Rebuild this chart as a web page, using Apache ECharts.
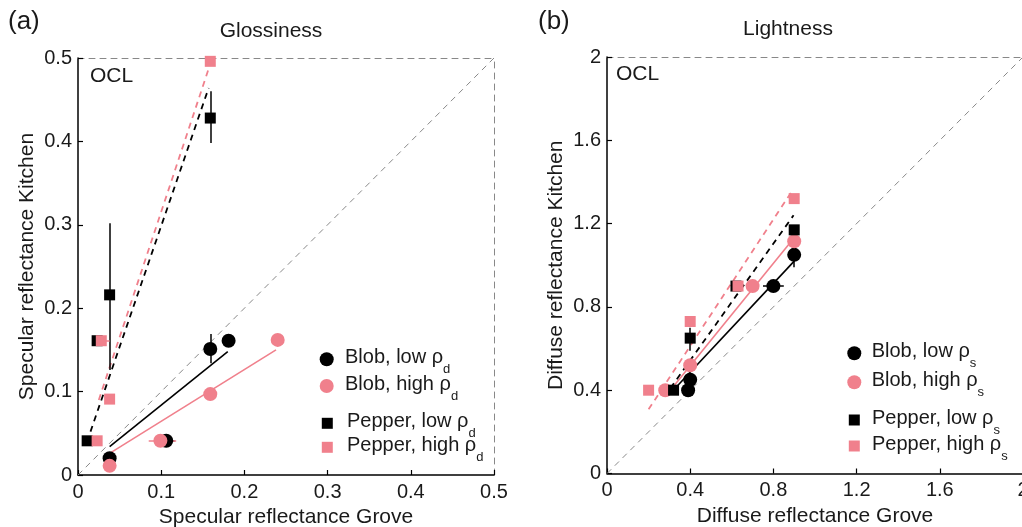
<!DOCTYPE html>
<html><head><meta charset="utf-8">
<script src="https://cdn.jsdelivr.net/npm/echarts@6/dist/echarts.min.js"></script>
<style>html,body{margin:0;padding:0;background:#fff}#c{width:1022px;height:527px}</style>
</head><body><div id="c"></div>
<script>
// ---------- Panel (a): Glossiness ----------
const aBlobLow    = [[0.038,0.020],[0.106,0.041],[0.159,0.151],[0.181,0.161]];
const aBlobHigh   = [[0.038,0.011],[0.099,0.041],[0.159,0.097],[0.240,0.162]];
const aPepperLow  = [[0.011,0.041],[0.023,0.161],[0.038,0.216],[0.159,0.428]];
const aPepperHigh = [[0.023,0.041],[0.028,0.161],[0.038,0.091],[0.159,0.496]];
const aFitBlobLow    = [[0.038,0.034],[0.180,0.148]];
const aFitBlobHigh   = [[0.038,0.026],[0.238,0.150]];
const aFitPepperLow  = [[0.015,0.052],[0.157,0.464]];
const aFitPepperHigh = [[0.025,0.090],[0.158,0.490]];
const aErrLow  = [[0.159,0.398,0.159,0.460],[0.038,0.126,0.038,0.302],[0.159,0.134,0.159,0.169],[0.098,0.041,0.116,0.041],[0.019,0.161,0.030,0.161]];
const aErrHigh = [[0.085,0.041,0.118,0.041],[0.020,0.161,0.038,0.161],[0.038,0.086,0.038,0.097]];

// ---------- Panel (b): Lightness ----------
const bBlobLow    = [[0.39,0.40],[0.40,0.45],[0.80,0.90],[0.90,1.05]];
const bBlobHigh   = [[0.28,0.40],[0.40,0.52],[0.70,0.90],[0.90,1.115]];
const bPepperLow  = [[0.32,0.40],[0.40,0.65],[0.62,0.90],[0.90,1.17]];
const bPepperHigh = [[0.20,0.40],[0.40,0.73],[0.63,0.90],[0.90,1.32]];
const bFitBlobLow    = [[0.305,0.385],[0.90,1.02]];
const bFitBlobHigh   = [[0.28,0.37],[0.89,1.12]];
const bFitPepperLow  = [[0.305,0.41],[0.897,1.24]];
const bFitPepperHigh = [[0.20,0.308],[0.892,1.36]];
const bErrLow  = [[0.40,0.59,0.40,0.70],[0.75,0.90,0.85,0.90],[0.90,0.99,0.90,1.09],[0.60,0.90,0.65,0.90]];
const bErrHigh = [];

const aNames = ['Blob, low ρ_d','Blob, high ρ_d','Pepper, low ρ_d','Pepper, high ρ_d'];
const bNames = ['Blob, low ρ_s','Blob, high ρ_s','Pepper, low ρ_s','Pepper, high ρ_s'];

const FONT = '"Liberation Sans", Arial, Helvetica, sans-serif';
const BLACK = '#000000';
const PINK = '#F0808C';
const TXT = '#1a1a1a';

function fmtTick(v){ return v === 0 ? '0' : (Math.abs(v - 2) < 1e-9 ? '2' : v.toFixed(1)); }

function axesFor(g, max, interval, xname, yname){
  const common = {gridIndex:g, type:'value', min:0, max:max, interval:interval, splitLine:{show:false}};
  const xMain = Object.assign({}, common, {
    position:'bottom', name:xname, nameLocation:'middle', nameGap:25,
    nameTextStyle:{fontFamily:FONT, fontSize:21, color:TXT},
    axisLine:{show:true, onZero:false, lineStyle:{color:'#000', width:1.5}},
    axisTick:{show:true, inside:true, length:5, lineStyle:{color:'#000', width:1.2}},
    axisLabel:{fontFamily:FONT, fontSize:20, color:TXT, margin:7, formatter:fmtTick, showMaxLabel:true, showMinLabel:true, hideOverlap:false}
  });
  const xTop = Object.assign({}, common, {
    position:'top', axisLine:{show:true, onZero:false, lineStyle:{color:'#888', width:1, type:[6,5]}},
    axisTick:{show:false}, axisLabel:{show:false}
  });
  const yMain = Object.assign({}, common, {
    position:'left', name:yname, nameLocation:'middle', nameGap:40,
    nameTextStyle:{fontFamily:FONT, fontSize:21, color:TXT},
    axisLine:{show:true, onZero:false, lineStyle:{color:'#000', width:1.5}},
    axisTick:{show:true, inside:true, length:5, lineStyle:{color:'#000', width:1.2}},
    axisLabel:{fontFamily:FONT, fontSize:20, color:TXT, margin:6, formatter:fmtTick, showMaxLabel:true, showMinLabel:true}
  });
  const yRight = Object.assign({}, common, {
    position:'right', axisLine:{show:true, onZero:false, lineStyle:{color:'#888', width:1, type:[6,5]}},
    axisTick:{show:false}, axisLabel:{show:false}
  });
  return {x:[xMain, xTop], y:[yMain, yRight]};
}

const A = axesFor(0, 0.5, 0.1, 'Specular reflectance Grove', 'Specular reflectance Kitchen');
const B = axesFor(1, 2, 0.4, 'Diffuse reflectance Grove', 'Diffuse reflectance Kitchen');

function lineSeries(data, color, dashed, width){
  return {type:'line', data:data, symbol:'none', silent:true,
    lineStyle:{color:color, width:width, type: dashed ? [6,5] : 'solid'}, z:2, animation:false};
}
function errSeries(arr, color){
  return {type:'lines', coordinateSystem:'cartesian2d', silent:true, z:3,
    lineStyle:{color:color, width:1.5, opacity:1, curveness:0},
    data: arr.map(e => ({coords:[[e[0],e[1]],[e[2],e[3]]]})), animation:false};
}
function scat(name, data, color, shape){
  return {type:'scatter', name:name, data:data,
    symbol: shape === 'c' ? 'circle' : 'rect', symbolSize: shape === 'c' ? 14 : 11,
    itemStyle:{color:color, opacity:1}, z:4, animation:false};
}

function panelSeries(max, fits, errLow, errHigh, pts, names){
  return [
    lineSeries([[0,0],[max,max]], '#888', true, 1),
    lineSeries(fits[0], BLACK, false, 1.6),
    lineSeries(fits[1], PINK, false, 1.6),
    lineSeries(fits[2], BLACK, true, 1.8),
    lineSeries(fits[3], PINK, true, 1.8),
    errSeries(errLow, BLACK),
    errSeries(errHigh, PINK),
    scat(names[0], pts[0], BLACK, 'c'),
    scat(names[1], pts[1], PINK, 'c'),
    scat(names[2], pts[2], BLACK, 's'),
    scat(names[3], pts[3], PINK, 's')
  ];
}

const seriesA = panelSeries(0.5, [aFitBlobLow,aFitBlobHigh,aFitPepperLow,aFitPepperHigh], aErrLow, aErrHigh,
  [aBlobLow,aBlobHigh,aPepperLow,aPepperHigh], aNames);
const seriesB = panelSeries(2, [bFitBlobLow,bFitBlobHigh,bFitPepperLow,bFitPepperHigh], bErrLow, bErrHigh,
  [bBlobLow,bBlobHigh,bPepperLow,bPepperHigh], bNames);
seriesA.forEach(s => { s.xAxisIndex = 0; s.yAxisIndex = 0; });
seriesB.forEach(s => { s.xAxisIndex = 2; s.yAxisIndex = 2; });

// ---- legend drawn as graphic (circle / square swatch + rich text with subscript)
const LH = 37;
const richLegend = {
  m:{fontFamily:FONT, fontSize:20, fill:TXT, lineHeight:LH, verticalAlign:'middle'},
  s:{fontFamily:FONT, fontSize:13, fill:TXT, lineHeight:LH, verticalAlign:'bottom'}
};
function legendFmt(name){ const p = name.split('_'); return '{m|' + p[0] + '}{s|' + p[1] + '}'; }
function legendItem(name, color, shape, cx, cy, tx){
  const sw = shape === 'c'
    ? {type:'circle', shape:{cx:cx, cy:cy, r:7}, style:{fill:color}, silent:true}
    : {type:'rect', shape:{x:cx-5.5, y:cy-5.5, width:11, height:11}, style:{fill:color}, silent:true};
  const t = {type:'text', x:tx, y:cy - 2, silent:true,
    style:{text:legendFmt(name), rich:richLegend, fontFamily:FONT, fontSize:20, fill:TXT,
      textAlign:'left', textVerticalAlign:'middle', lineHeight:LH}};
  return [sw, t];
}
const legendGraphics = [].concat(
  legendItem(aNames[0], BLACK, 'c', 326.7, 359.3, 345),
  legendItem(aNames[1], PINK,  'c', 326.7, 386.0, 345),
  legendItem(aNames[2], BLACK, 's', 327.3, 423.3, 347),
  legendItem(aNames[3], PINK,  's', 327.3, 447.3, 347),
  legendItem(bNames[0], BLACK, 'c', 854.3, 353.3, 871.7),
  legendItem(bNames[1], PINK,  'c', 854.3, 382.3, 871.7),
  legendItem(bNames[2], BLACK, 's', 854.3, 420.0, 872),
  legendItem(bNames[3], PINK,  's', 854.3, 446.0, 872)
);

function txt(x, y, s, size, align){
  return {type:'text', x:x, y:y, silent:true,
    style:{text:s, fontFamily:FONT, fontSize:size, fill:TXT, textAlign:align||'left', textVerticalAlign:'middle'}};
}

const option = {
  backgroundColor:'#fff',
  animation:false,
  grid:[
    {left:78, top:58, width:416, height:417, containLabel:false, outerBoundsMode:'none'},
    {left:607, top:57, width:416, height:416.5, containLabel:false, outerBoundsMode:'none'}
  ],
  xAxis:[A.x[0], A.x[1], B.x[0], B.x[1]],
  yAxis:[A.y[0], A.y[1], B.y[0], B.y[1]],
  series: seriesA.concat(seriesB),
  graphic: [
    txt(8, 22, '(a)', 26),
    txt(538, 22, '(b)', 26),
    txt(271, 31, 'Glossiness', 21, 'center'),
    txt(788, 29, 'Lightness', 21, 'center'),
    txt(90, 76, 'OCL', 21),
    txt(616, 74, 'OCL', 21)
  ].concat(legendGraphics)
};

const chart = echarts.init(document.getElementById('c'), null, {renderer:'canvas'});
chart.setOption(option);
</script>
</body></html>
